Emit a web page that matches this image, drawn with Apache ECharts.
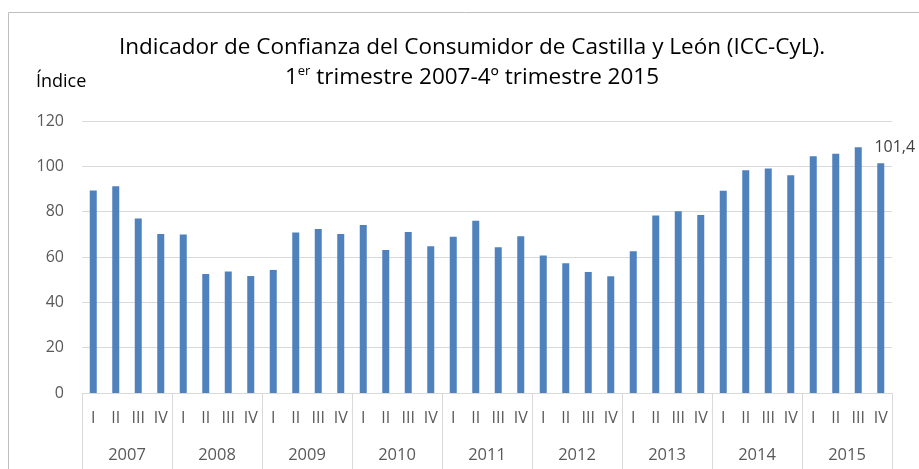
<!DOCTYPE html>
<html lang="es">
<head>
	<meta charset="UTF-8">
	<title>ICC-CyL</title>
	<script src="https://cdn.jsdelivr.net/npm/echarts@6/dist/echarts.min.js"></script>
	<style>
		html,body{width:100%;height:100%;margin:0;background:#fff;}
		#chart{width:919px;height:469px;}
	</style>
</head>
<body>
	<div id="chart"></div>
<script>
	var years = ['2007', '2008', '2009', '2010', '2011', '2012', '2013', '2014', '2015'];
	var quarters = ['I', 'II', 'III', 'IV'];
	// índice trimestral
	var values = [
		89.3, 91.2, 77.0, 70.1,
		69.9, 52.5, 53.6, 51.6,
		54.3, 70.8, 72.3, 70.1,
		74.1, 63.1, 71.0, 64.7,
		68.9, 76.0, 64.3, 69.2,
		60.7, 57.2, 53.4, 51.5,
		62.5, 78.3, 80.2, 78.5,
		89.2, 98.3, 99.0, 96.1,
		104.4, 105.5, 108.4, 101.4
	];
	var yTicks = [0, 20, 40, 60, 80, 100, 120];

	var fontName = 'Open Sans';
	var txtColor = '#595959';
	var lineColor = '#d9d9d9';

	var xData = [];
	for (var i = 0; i < years.length; i++) {
		for (var j = 0; j < quarters.length; j++) {
			xData.push(quarters[j]);
		}
	}

	var barData = [];
	for (var k = 0; k < values.length; k++) {
		var item = {value: values[k]};
		if (k == values.length - 1) {
			item.label = {
				show: true,
				position: 'top',
				offset: [14, -3],
				color: '#404040',
				fontFamily: fontName,
				fontSize: 16,
				formatter: function (p) {
					return String(p.value).replace('.', ',');
				}
			};
		}
		barData.push(item);
	}

	var myChart = echarts.init(document.getElementById('chart'), null, {renderer: 'canvas'});
	var options = {
		animation: false,
		backgroundColor: '#fff',
		title: [{
			text: 'Indicador de Confianza del Consumidor de Castilla y León (ICC-CyL).',
			left: 472,
			textAlign: 'center',
			top: 36,
			padding: 0,
			textStyle: {fontFamily: fontName, fontSize: 22.5, fontWeight: 'normal', color: '#000'}
		}, {
			text: '{a|1}{s|er}{a| trimestre 2007-4º trimestre 2015}',
			left: 472,
			textAlign: 'center',
			top: 63,
			padding: 0,
			textStyle: {
				fontFamily: fontName, fontSize: 22.5, fontWeight: 'normal', color: '#000',
				rich: {
					a: {fontFamily: fontName, fontSize: 22.5, color: '#000', lineHeight: 30},
					s: {fontFamily: fontName, fontSize: 13, color: '#000', lineHeight: 30, verticalAlign: 'top', padding: [2, 0, 0, 0]}
				}
			}
		}, {
			text: 'Índice',
			left: 36,
			top: 73,
			padding: 0,
			textStyle: {fontFamily: fontName, fontSize: 18, fontWeight: 'normal', color: '#000'}
		}],
		graphic: [{
			type: 'rect',
			shape: {x: 8.5, y: 12.5, width: 1000, height: 1000},
			style: {fill: 'none', stroke: '#bfbfbf', lineWidth: 1},
			silent: true
		}],
		grid: {
			left: 82,
			right: 27,
			top: 121,
			bottom: 76
		},
		xAxis: [{
			type: 'category',
			data: xData,
			position: 'bottom',
			axisLine: {lineStyle: {color: lineColor, width: 1}},
			axisTick: {
				show: true,
				length: 80,
				interval: function (idx) { return idx % 4 === 0; },
				lineStyle: {color: lineColor}
			},
			axisLabel: {
				interval: 0,
				margin: 17,
				color: txtColor,
				fontFamily: fontName,
				fontSize: 16
			}
		}, {
			type: 'category',
			data: years,
			position: 'bottom',
			offset: 37,
			axisLine: {show: false},
			axisTick: {show: false},
			axisLabel: {
				interval: 0,
				margin: 17,
				color: txtColor,
				fontFamily: fontName,
				fontSize: 16.5
			}
		}],
		yAxis: {
			type: 'value',
			min: yTicks[0],
			max: yTicks[yTicks.length - 1],
			interval: 20,
			axisLine: {show: false},
			axisTick: {show: false},
			splitLine: {lineStyle: {color: lineColor, width: 1}},
			axisLabel: {
				margin: 18,
				color: txtColor,
				fontFamily: fontName,
				fontSize: 16
			}
		},
		series: [{
			type: 'bar',
			xAxisIndex: 0,
			barWidth: 7,
			itemStyle: {color: '#4f81bd'},
			data: barData
		}]
	};
	myChart.setOption(options);
</script>
</body>
</html>
